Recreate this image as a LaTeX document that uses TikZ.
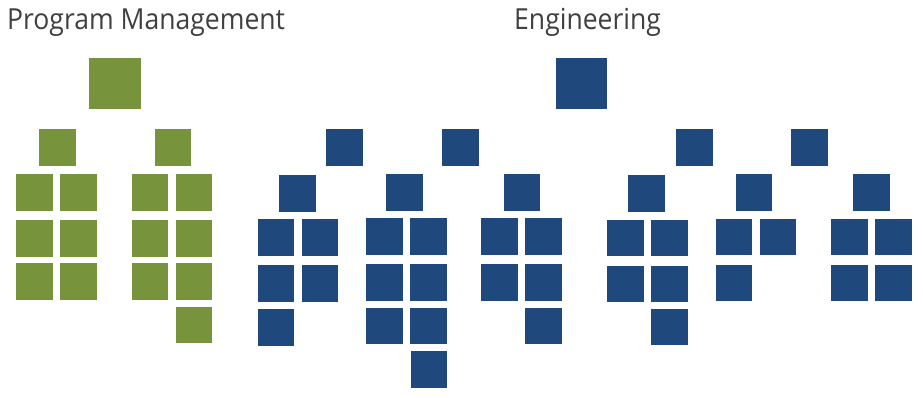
\documentclass[tikz,border=0pt]{standalone}
\usepackage{fontspec}
\setmainfont{Open Sans}
\definecolor{pmgreen}{HTML}{77933C}
\definecolor{engblue}{HTML}{1F497D}
\definecolor{titlegray}{HTML}{404040}
\newcommand{\narrowtext}[1]{\scalebox{0.915}[1]{#1}}
\tikzset{
  gsq/.style={fill=pmgreen, draw=none, inner sep=0pt, minimum size=36.5pt},
  bsq/.style={fill=engblue, draw=none, inner sep=0pt, minimum size=36.5pt},
  bigsq/.style={minimum size=51.5pt},
  title/.style={anchor=base west, inner sep=0pt, text=titlegray, font=\fontsize{29}{34}\selectfont}
}
\begin{document}
\begin{tikzpicture}[x=1pt,y=-1pt]
\useasboundingbox (0,0) rectangle (923,398);
% titles
\node[title] (pmtitle) at (7,30) {\narrowtext{Program Management}};
\node[title] (engtitle) at (514,30) {\narrowtext{Engineering}};
% ---------- Program Management ----------
\node[gsq,bigsq] (g0) at (115,83.5) {};
\node[gsq] (ga) at (57.5,147.5) {};
\node[gsq] (gb) at (173,147.5) {};
\foreach \x [count=\i] in {34.5,78.5}
  \foreach \y [count=\j] in {192.5,238.5,281.5}
    \node[gsq] (ga\i\j) at (\x,\y) {};
\foreach \x [count=\i] in {150,194}
  \foreach \y [count=\j] in {192.5,238.5,281.5}
    \node[gsq] (gb\i\j) at (\x,\y) {};
\node[gsq] (gb24) at (194,325) {};
% ---------- Engineering ----------
\node[bsq,bigsq] (b0) at (581.5,83.5) {};
\node[bsq] (ba) at (344.5,147.5) {};
\node[bsq] (bb) at (460.5,147.5) {};
\node[bsq] (bc) at (694.5,147.5) {};
\node[bsq] (bd) at (809.5,147.5) {};
\node[bsq] (b1) at (297.5,193.5) {};
\node[bsq] (b2) at (404.5,192.5) {};
\node[bsq] (b3) at (522,192.5) {};
\node[bsq] (b4) at (646.5,193.5) {};
\node[bsq] (b5) at (754,192.5) {};
\node[bsq] (b6) at (871.5,192.5) {};
% group 1
\node[bsq] (b1a1) at (276,237.5) {};
\node[bsq] (b1b1) at (320,237.5) {};
\node[bsq] (b1a2) at (276,283.5) {};
\node[bsq] (b1b2) at (320,283.5) {};
\node[bsq] (b1a3) at (276,327.5) {};
% group 2
\node[bsq] (b2a1) at (384.5,236.5) {};
\node[bsq] (b2b1) at (428.5,236.5) {};
\node[bsq] (b2a2) at (384.5,282.5) {};
\node[bsq] (b2b2) at (428.5,282.5) {};
\node[bsq] (b2a3) at (384.5,326) {};
\node[bsq] (b2b3) at (428.5,326) {};
\node[bsq] (b2b4) at (429,369.5) {};
% group 3
\node[bsq] (b3a1) at (499.5,236.5) {};
\node[bsq] (b3b1) at (543.5,236.5) {};
\node[bsq] (b3a2) at (499.5,282.5) {};
\node[bsq] (b3b2) at (543.5,282.5) {};
\node[bsq] (b3b3) at (543.5,326) {};
% group 4
\node[bsq] (b4a1) at (625.5,238) {};
\node[bsq] (b4b1) at (669.5,238) {};
\node[bsq] (b4a2) at (625.5,284) {};
\node[bsq] (b4b2) at (669.5,284) {};
\node[bsq] (b4b3) at (669.5,327) {};
% group 5
\node[bsq] (b5a1) at (734,237) {};
\node[bsq] (b5b1) at (778,237) {};
\node[bsq] (b5a2) at (734,283) {};
% group 6
\node[bsq] (b6a1) at (849.5,237) {};
\node[bsq] (b6b1) at (893.5,237) {};
\node[bsq] (b6a2) at (849.5,283) {};
\node[bsq] (b6b2) at (893.5,283) {};
\end{tikzpicture}
\end{document}
